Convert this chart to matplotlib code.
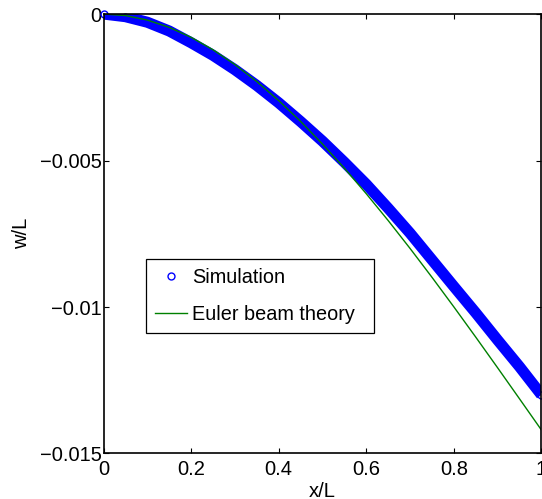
import numpy as np
import matplotlib.pyplot as plt

plt.rcParams['font.family'] = ['Liberation Sans', 'DejaVu Sans']

# normalised position along the beam
x_sim = [0.0, 0.05, 0.1, 0.15, 0.2, 0.25, 0.3, 0.35, 0.4, 0.45, 0.5,
         0.55, 0.6, 0.65, 0.7, 0.75, 0.8, 0.85, 0.9, 0.95, 1.0]
# simulated deflection w/L
w_sim = [0.0, -0.00009, -0.00028, -0.00058, -0.00098, -0.00141, -0.00190,
         -0.00244, -0.00303, -0.00367, -0.00434, -0.00506, -0.00581,
         -0.00663, -0.00748, -0.00839, -0.00930, -0.01020, -0.01113,
         -0.01204, -0.01300]

x_euler = x_sim
# Euler-Bernoulli cantilever deflection
w_euler = [0.0, -0.0000524, -0.000206, -0.000455, -0.000795, -0.00122,
           -0.001725, -0.002305, -0.002954, -0.003666, -0.004438, -0.005262,
           -0.006134, -0.007049, -0.008002, -0.008986, -0.009997, -0.011029,
           -0.012077, -0.013136, -0.0142]

xtick_vals = [0, 0.2, 0.4, 0.6, 0.8, 1]
xtick_labels = ['0', '0.2', '0.4', '0.6', '0.8', '1']
ytick_vals = [0, -0.005, -0.01, -0.015]
ytick_labels = ['0', '\u22120.005', '\u22120.01', '\u22120.015']

fig = plt.figure(figsize=(5.42, 4.99), dpi=100)
ax = fig.add_axes([0.191, 0.0912, 0.808, 0.8807])

# the simulation points are so dense they merge into a solid band
ax.plot(x_sim, w_sim, color='b', linewidth=8, solid_joinstyle='round',
        solid_capstyle='butt')
ax.plot(x_sim, w_sim, 'o', color='b', markerfacecolor='none', markersize=5,
        markeredgewidth=1, clip_on=False, label='Simulation')
ax.plot(x_euler, w_euler, color=(0, 0.5, 0), linewidth=1,
        label='Euler beam theory')

ax.set_xlim(0, 1)
ax.set_ylim(-0.015, 0)
ax.set_xticks(xtick_vals)
ax.set_xticklabels(xtick_labels)
ax.set_yticks(ytick_vals)
ax.set_yticklabels(ytick_labels)
ax.tick_params(direction='in', length=3.3, width=0.8, labelsize=14.5,
               top=True, right=True, pad=1.5)
ax.tick_params(axis='x', pad=4.5)
for s in ax.spines.values():
    s.set_linewidth(1.2)

ax.set_xlabel('x/L', fontsize=14.5, labelpad=2)
ax.set_ylabel('w/L', fontsize=14.5, labelpad=6)

# legend box stretched to a fixed width
leg = ax.legend(loc='upper left', bbox_to_anchor=(0.097, 0.272, 0.521, 0.1706),
                mode='expand', borderaxespad=0, fontsize=14.3, fancybox=False,
                framealpha=1, edgecolor='black', handlelength=1.6,
                handletextpad=0.25, labelspacing=0.9, borderpad=0.45)
leg.get_frame().set_linewidth(0.9)

plt.savefig('out.png', dpi=100)
